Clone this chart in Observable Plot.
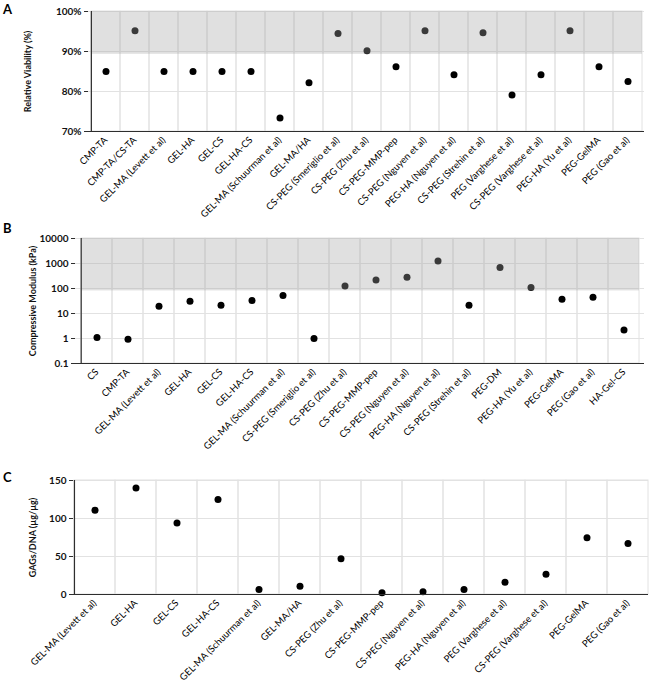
<!DOCTYPE html>
<html>
<head>
<meta charset="utf-8">
<script src="https://cdn.jsdelivr.net/npm/d3@7"></script>
<script src="https://cdn.jsdelivr.net/npm/@observablehq/plot@0.6"></script>
<style>
  body { margin: 0; background: white; }
  #wrap { position: relative; width: 649px; height: 697px; overflow: hidden; font-family: Lato, "Open Sans", sans-serif; }
  .panel { position: absolute; left: 0; }
  .letter { position: absolute; font: bold 13px Lato, "Open Sans", sans-serif; color: #000; z-index: 5; }
</style>
</head>
<body>
<div id="wrap">
  <div class="letter" style="left:3px; top:1px;">A</div>
  <div class="letter" style="left:3px; top:220px;">B</div>
  <div class="letter" style="left:3px; top:469px;">C</div>
</div>
<script>
// ---- Panel A: Relative viability ----
const catsA = ["CMP-TA", "CMP-TA/CS-TA", "GEL-MA (Levett et al)", "GEL-HA", "GEL-CS", "GEL-HA-CS",
  "GEL-MA (Schuurman et al)", "GEL-MA/HA", "CS-PEG (Smeriglio et al)", "CS-PEG (Zhu et al)",
  "CS-PEG-MMP-pep", "CS-PEG (Nguyen et al)", "PEG-HA (Nguyen et al)", "CS-PEG (Strehin et al)",
  "PEG (Varghese et al)", "CS-PEG (Varghese et al)", "PEG-HA (Yu et al)", "PEG-GelMA", "PEG (Gao et al)"];
const valsA = [85, 95.2, 85, 85, 85, 85, 73.4, 82.2, 94.5, 90.2, 86.2, 95.2, 84.2, 94.7, 79.1, 84.2, 95.2, 86.2, 82.5];
const ticksA = [70, 80, 90, 100];
const bandA = [89.3, 100];

// ---- Panel B: Compressive modulus ----
const catsB = ["CS", "CMP-TA", "GEL-MA (Levett et al)", "GEL-HA", "GEL-CS", "GEL-HA-CS",
  "GEL-MA (Schuurman et al)", "CS-PEG (Smeriglio et al)", "CS-PEG (Zhu et al)", "CS-PEG-MMP-pep",
  "CS-PEG (Nguyen et al)", "PEG-HA (Nguyen et al)", "CS-PEG (Strehin et al)", "PEG-DM",
  "PEG-HA (Yu et al)", "PEG-GelMA", "PEG (Gao et al)", "HA-Gel-CS"];
const valsB = [1.1, 0.94, 19.5, 31, 21.5, 33, 52, 1.0, 127, 220, 283, 1260, 21.5, 690, 110, 37, 45, 2.2];
const ticksB = [0.1, 1, 10, 100, 1000, 10000];
const bandB = [80, 10000];

// ---- Panel C: GAGs/DNA ----
const catsC = ["GEL-MA (Levett et al)", "GEL-HA", "GEL-CS", "GEL-HA-CS", "GEL-MA (Schuurman et al)",
  "GEL-MA/HA", "CS-PEG (Zhu et al)", "CS-PEG-MMP-pep", "CS-PEG (Nguyen et al)", "PEG-HA (Nguyen et al)",
  "PEG (Varghese et al)", "CS-PEG (Varghese et al)", "PEG-GelMA", "PEG (Gao et al)"];
const valsC = [111, 140, 94, 125, 6.6, 11, 47, 2.2, 3.5, 6.6, 16.2, 26.7, 74.6, 67];
const ticksC = [0, 50, 100, 150];

const FONT = "Lato, 'Open Sans', sans-serif";
const GRID = "#e2e2e2";
const AXIS = "#2e2e2e";
const TXT = "#111";

function panel(cfg) {
  const data = cfg.cats.map((c, i) => ({cat: c, v: cfg.vals[i]}));
  const plotW = 649 - cfg.ml - cfg.mr;
  const bw = plotW / cfg.cats.length;
  const marks = [
    Plot.cell(cfg.cats, {x: d => d, stroke: GRID, fill: "none", strokeWidth: 1}),
    Plot.ruleY(cfg.ticks, {stroke: GRID, strokeWidth: 1}),
    Plot.dot(data, {x: "cat", y: "v", r: 3.5, fill: "#000", stroke: "none"})
  ];
  if (cfg.band) {
    marks.push(Plot.barY(cfg.cats, {x: d => d, y1: cfg.band[0], y2: cfg.band[1], fill: "#a6a6a6", fillOpacity: 0.35, inset: 0}));
  }
  marks.push(
    Plot.ruleY([cfg.yDomain[0]], {stroke: AXIS, strokeWidth: 1.2}),
    Plot.ruleX([cfg.cats[0]], {x: d => d, dx: -bw / 2, stroke: AXIS, strokeWidth: 1.2}),
    Plot.axisY({ticks: cfg.ticks, tickFormat: cfg.fmt, tickSize: 4, tickPadding: 3, fontSize: 10,
      fontWeight: "bold", fill: TXT, stroke: AXIS, label: null}),
    Plot.axisX({tickRotate: -45, tickSize: 0, tickPadding: 7, fontSize: 9.5, fill: "#000", label: null}),
    Plot.text([cfg.title], {text: d => d, frameAnchor: "left", textAnchor: "middle", dx: cfg.titleDx, rotate: -90,
      fontWeight: "bold", fontSize: 9, fill: TXT})
  );
  const svg = Plot.plot({
    width: 649, height: cfg.height,
    marginLeft: cfg.ml, marginRight: cfg.mr, marginTop: cfg.mt, marginBottom: cfg.mb,
    style: {background: "none", overflow: "visible", fontFamily: FONT},
    x: {type: "band", domain: cfg.cats, padding: 0, align: 0.5},
    y: cfg.yScale,
    marks
  });
  svg.classList.add("panel");
  svg.style.top = cfg.top + "px";
  document.getElementById("wrap").appendChild(svg);
}

panel({cats: catsA, vals: valsA, ticks: ticksA, band: bandA, top: 0, height: 240,
  ml: 88, mr: 5, mt: 11, mb: 109, yDomain: [70, 100],
  yScale: {domain: [70, 100]}, fmt: d => d + "%",
  title: "Relative Viability (%)", titleDx: -60});

panel({cats: catsB, vals: valsB, ticks: ticksB, band: bandB, top: 228, height: 240,
  ml: 75, mr: 5, mt: 10, mb: 105, yDomain: [0.1, 10000],
  yScale: {type: "log", domain: [0.1, 10000]}, fmt: d => String(d),
  title: "Compressive Modulus (kPa)", titleDx: -42});

panel({cats: catsC, vals: valsC, ticks: ticksC, band: null, top: 468, height: 229,
  ml: 73, mr: 1, mt: 12, mb: 103, yDomain: [0, 150],
  yScale: {domain: [0, 150]}, fmt: d => String(d),
  title: "GAGs/DNA (µg/µg)", titleDx: -40});
</script>
</body>
</html>
